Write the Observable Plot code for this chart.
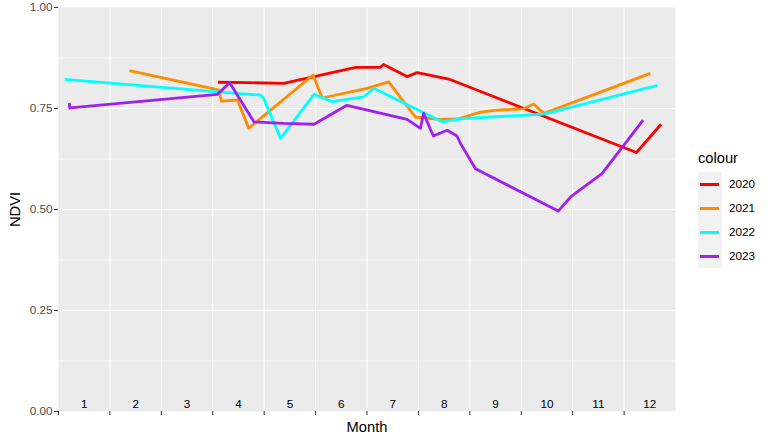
<!DOCTYPE html>
<html>
<head>
<meta charset="utf-8">
<script src="https://cdn.jsdelivr.net/npm/d3@7"></script>
<script src="https://cdn.jsdelivr.net/npm/@observablehq/plot@0.6"></script>
<style>
  body { margin: 0; background: white; font-family: "Liberation Sans", Arial, sans-serif; }
  #wrap { position: relative; width: 773px; height: 442px; }
  .lg { position: absolute; white-space: nowrap; color: black; }
</style>
</head>
<body>
<div id="wrap"></div>
<script>
// Month position (fractional month, 0 = start of Jan, 12 = end of Dec) and NDVI
const years = ["2020", "2021", "2022", "2023"];
const colors = ["#ff0000", "#ff8c00", "#00ffff", "#a020f0"];
const monthLabels = [1, 2, 3, 4, 5, 6, 7, 8, 9, 10, 11, 12];
const yTicks = [0, 0.25, 0.5, 0.75, 1];

const x2020 = [3.10, 3.71, 4.38, 5.78, 6.26, 6.32, 6.78, 6.98, 7.59, 8.21, 11.24, 11.72];
const y2020 = [0.815, 0.814, 0.812, 0.852, 0.852, 0.859, 0.829, 0.839, 0.823, 0.792, 0.641, 0.711];

const x2021 = [1.38, 3.11, 3.17, 3.48, 3.70, 4.95, 5.13, 6.00, 6.42, 6.94, 7.39, 7.76, 8.21, 8.53, 9.04, 9.24, 9.44, 11.51];
const y2021 = [0.844, 0.796, 0.768, 0.771, 0.701, 0.833, 0.776, 0.800, 0.816, 0.729, 0.723, 0.724, 0.741, 0.746, 0.749, 0.761, 0.738, 0.837];

const x2022 = [0.12, 3.09, 3.93, 3.99, 4.32, 4.97, 5.32, 5.94, 6.13, 7.46, 7.85, 9.44, 11.65];
const y2022 = [0.822, 0.791, 0.783, 0.775, 0.676, 0.785, 0.767, 0.779, 0.800, 0.717, 0.725, 0.736, 0.807];

const x2023 = [0.21, 0.22, 0.28, 3.09, 3.33, 3.80, 4.38, 4.97, 5.61, 6.78, 7.04, 7.10, 7.29, 7.56, 7.75, 7.82, 8.11, 9.72, 9.96, 10.57, 11.37];
const y2023 = [0.764, 0.751, 0.752, 0.785, 0.814, 0.717, 0.713, 0.711, 0.758, 0.723, 0.701, 0.738, 0.682, 0.696, 0.682, 0.663, 0.601, 0.496, 0.531, 0.589, 0.721];

const series = [[x2020, y2020], [x2021, y2021], [x2022, y2022], [x2023, y2023]];
const rows = [];
series.forEach(([xs, ys], i) => xs.forEach((x, j) => rows.push({year: years[i], x, y: ys[j]})));

const font = "'Liberation Sans', Arial, sans-serif";

const chart = Plot.plot({
  width: 773,
  height: 442,
  marginLeft: 58,
  marginRight: 98,
  marginTop: 7,
  marginBottom: 31,
  style: {fontFamily: font, fontSize: "11.7px", background: "white", overflow: "visible"},
  x: {domain: [0, 12], axis: null},
  y: {domain: [0, 1], axis: null},
  color: {domain: years, range: colors},
  marks: [
    Plot.frame({fill: "#ebebeb", stroke: null}),
    Plot.ruleY([0.125, 0.375, 0.625, 0.875], {stroke: "white", strokeWidth: 0.55}),
    Plot.ruleY([0.25, 0.5, 0.75], {stroke: "white", strokeWidth: 1.1}),
    Plot.ruleX(d3.range(1, 12), {stroke: "white", strokeWidth: 1.1}),
    Plot.line(rows, {x: "x", y: "y", z: "year", stroke: "year", strokeWidth: 2.8, strokeLinecap: "butt"}),
    Plot.text(monthLabels, {x: d => d - 0.5, y: 0, dy: -7, text: d => String(d), fill: "black", fontSize: 11.7}),
    Plot.axisY({ticks: yTicks, tickFormat: d3.format(".2f"), tickSize: 4, tickPadding: 2, stroke: "#333333", fill: "#4d4d4d", fontSize: 11.7, label: null}),
    Plot.axisX({ticks: d3.range(0, 12), tickFormat: () => "", tickSize: 4, stroke: "#333333", label: null}),
    Plot.text(["Month"], {frameAnchor: "bottom", lineAnchor: "middle", textAnchor: "middle", dy: 16, fontSize: 14.7, fill: "black"}),
    Plot.text(["NDVI"], {frameAnchor: "left", lineAnchor: "middle", textAnchor: "middle", dx: -43, rotate: -90, fontSize: 14.7, fill: "black"})
  ]
});

const wrap = document.getElementById("wrap");
wrap.appendChild(chart);

// Legend (HTML, over the right margin)
const title = document.createElement("div");
title.className = "lg";
title.textContent = "colour";
title.style.cssText += "left:698px;top:149px;font-size:14.7px;line-height:18px;";
wrap.appendChild(title);

const box = document.createElement("div");
box.style.cssText = "position:absolute;left:698px;top:172px;width:24px;height:" + (24 * years.length) + "px;background:#f2f2f2;";
wrap.appendChild(box);

years.forEach((yr, i) => {
  const key = document.createElement("div");
  key.style.cssText = `position:absolute;left:700px;top:${172 + 24 * i + 11}px;width:19px;height:2.7px;background:${colors[i]};`;
  wrap.appendChild(key);
  const lab = document.createElement("div");
  lab.className = "lg";
  lab.textContent = yr;
  lab.style.cssText += `left:729px;top:${172 + 24 * i + 4}px;font-size:11.7px;line-height:16px;`;
  wrap.appendChild(lab);
});
</script>
</body>
</html>
